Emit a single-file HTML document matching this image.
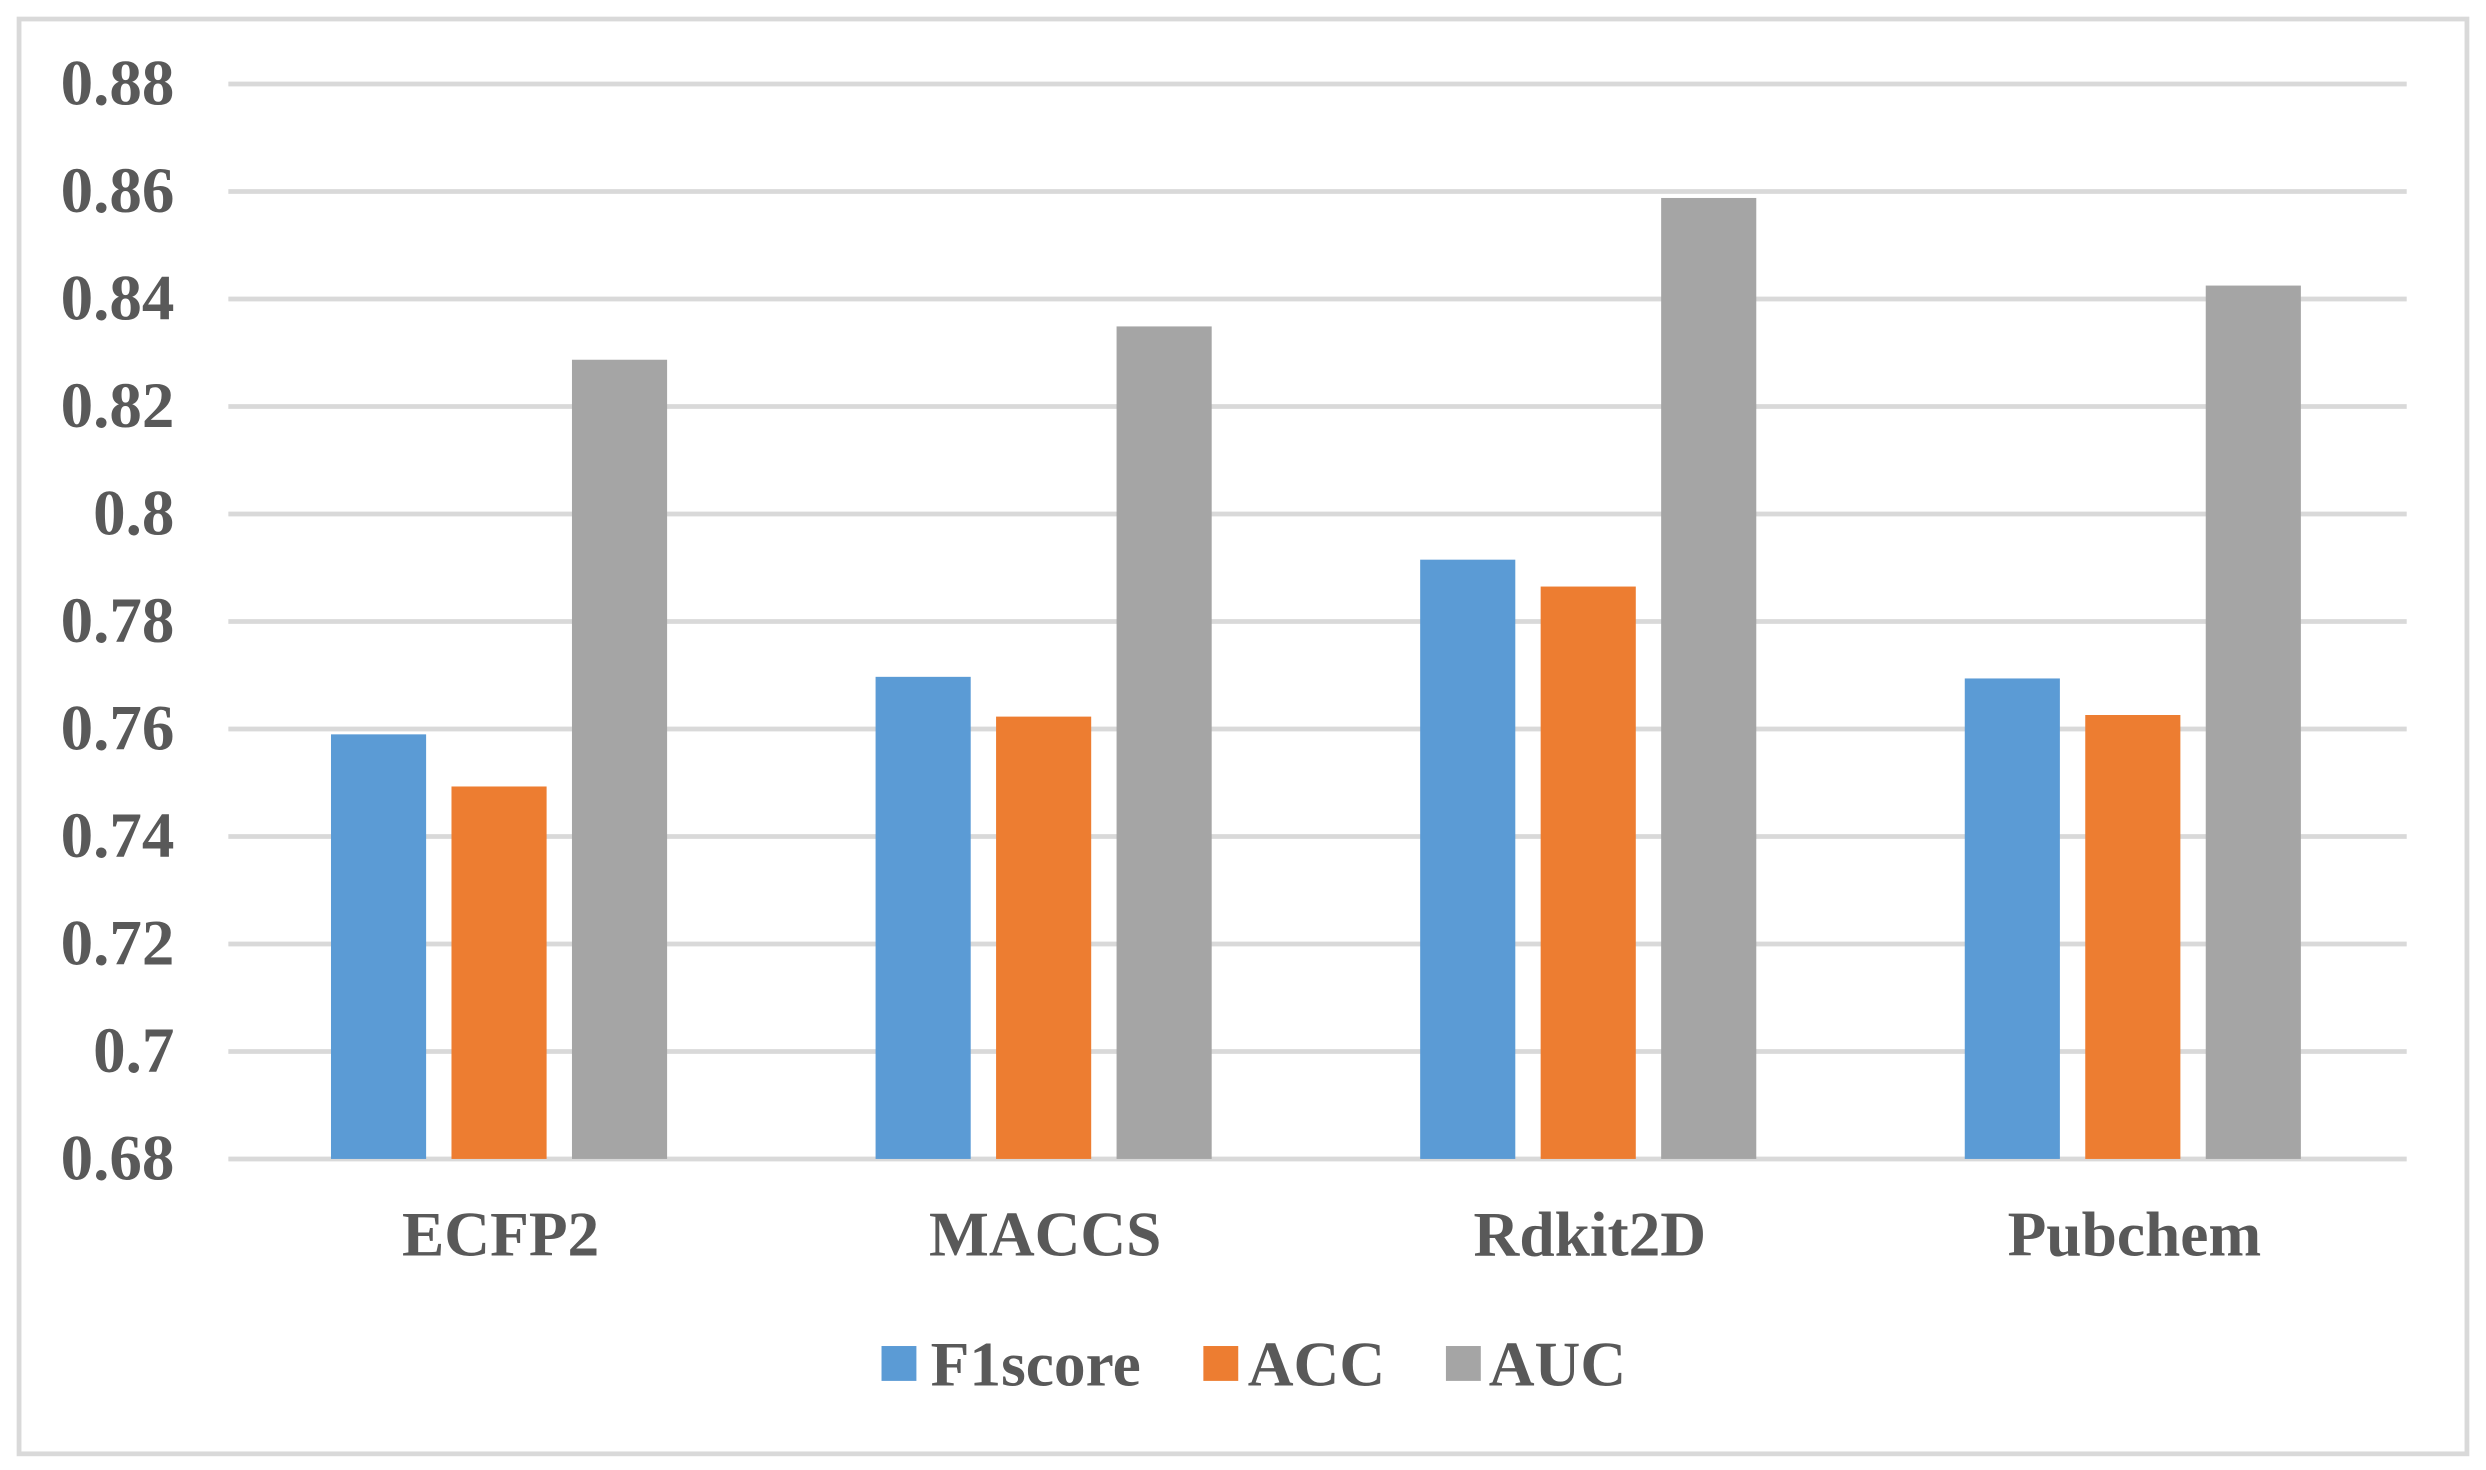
<!DOCTYPE html>
<html><head><meta charset="utf-8"><style>
html,body{margin:0;padding:0;background:#fff;}
svg{display:block;}
text{font-family:"Liberation Serif","Times New Roman",serif;font-weight:bold;fill:#595959;}
</style></head><body>
<svg id="chart" width="2486" height="1470" viewBox="0 0 1568 927.2" xmlns="http://www.w3.org/2000/svg">
<rect x="12" y="12" width="1544" height="905" fill="#fff" stroke="#d9d9d9" stroke-width="3"/>
<g id="grid"></g><g id="bars"></g><g id="labels"></g>
<g id="legend">
<g><rect x="556" y="849" width="22" height="22" fill="#5b9bd5"/><text x="587" y="874" font-size="40">F1score</text></g>
<g><rect x="759" y="849" width="22" height="22" fill="#ed7d31"/><text x="787" y="874" font-size="40">ACC</text></g>
<g><rect x="912" y="849" width="22" height="22" fill="#a5a5a5"/><text x="939" y="874" font-size="40">AUC</text></g>
</g>
</svg>
<script>
const categories = ["ECFP2","MACCS","Rdkit2D","Pubchem"];
const f1score = [0.759,0.7697,0.7915,0.7694];
const acc = [0.7493,0.7623,0.7865,0.7626];
const auc = [0.8287,0.8349,0.8588,0.8425];
const yTicks = [0.68,0.70,0.72,0.74,0.76,0.78,0.80,0.82,0.84,0.86,0.88];
const yTickLabels = ["0.68","0.7","0.72","0.74","0.76","0.78","0.8","0.82","0.84","0.86","0.88"];

const NS="http://www.w3.org/2000/svg";
const X0=144,X1=1518,Y0=731,Y1=53,VMIN=0.68,VMAX=0.88;
function y(v){return Y0-(v-VMIN)/(VMAX-VMIN)*(Y0-Y1);}
function catCenter(i){const w=(X1-X0)/categories.length;return X0+w*i+w/2;}
function mk(tag,attrs,parent){const e=document.createElementNS(NS,tag);for(const k in attrs)e.setAttribute(k,attrs[k]);parent.appendChild(e);return e;}
const grid=document.getElementById('grid'),bars=document.getElementById('bars'),labels=document.getElementById('labels');
yTicks.forEach((t,i)=>{
  const l=mk('line',{x1:X0,x2:X1,y1:y(t),y2:y(t),stroke:'#d9d9d9','stroke-width':3},grid);
  
  
  const tx=mk('text',{x:110,y:y(t)+13,'text-anchor':'end','font-size':41},labels);
  tx.textContent=yTickLabels[i];
  
  
});
const series=[[f1score,'#5b9bd5','f1score'],[acc,'#ed7d31','acc'],[auc,'#a5a5a5','auc']];
const BW=60,STEP=76;
categories.forEach((c,i)=>{
  const cx=catCenter(i);
  series.forEach((s,j)=>{
    const v=s[0][i];
    const r=mk('rect',{x:cx+(j-1)*STEP-BW/2-1,y:y(v),width:BW,height:Y0-y(v),fill:s[1]},bars);
    
    
  });
  const tx=mk('text',{x:cx,y:792,'text-anchor':'middle','font-size':40},labels);
  tx.textContent=c;
  
  
});
</script>
</body></html>
